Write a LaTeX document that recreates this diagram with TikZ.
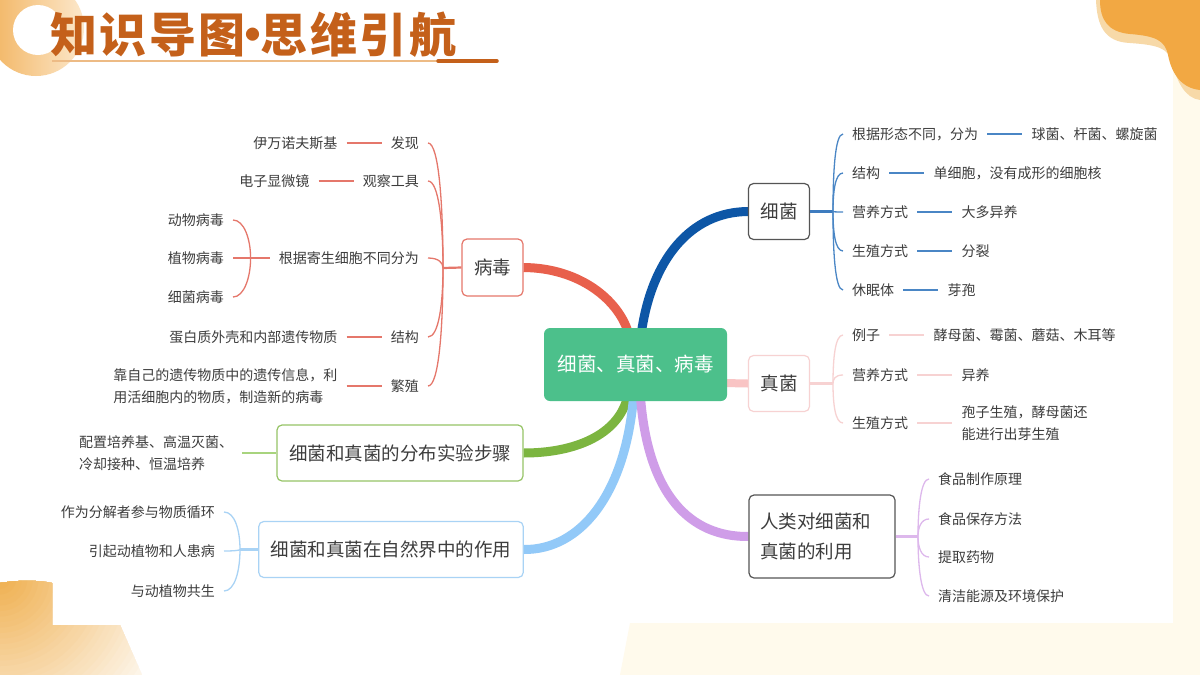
\documentclass[tikz,border=0pt]{standalone}
\usepackage{fontspec}
\setmainfont{Noto Sans CJK SC}
\usetikzlibrary{positioning,calc}
\pgfdeclarelayer{back}
\pgfdeclarelayer{bg}
\pgfsetlayers{back,bg,main}
\definecolor{txt}{HTML}{3D3D3D}
\definecolor{titlec}{HTML}{C4601A}
\definecolor{titleln}{HTML}{EDBB85}
\definecolor{cream}{HTML}{FFFAEC}
\definecolor{blobA}{HTML}{F2A843}
\definecolor{blobB}{HTML}{F7D9A8}
\definecolor{ringA}{HTML}{F2B460}
\definecolor{ringB}{HTML}{FCE8CC}
\definecolor{cornA}{HTML}{EFAE4C}
\definecolor{cornB}{HTML}{FFFFFF}
\definecolor{cgreen}{HTML}{4CC08B}
\definecolor{boxgrey}{HTML}{555555}
\definecolor{redb}{HTML}{E8604C}
\definecolor{redt}{HTML}{E5776B}
\definecolor{blueb}{HTML}{0D56A6}
\definecolor{bluet}{HTML}{4A86C5}
\definecolor{pinkb}{HTML}{F9C4C4}
\definecolor{pinkt}{HTML}{F7D2D2}
\definecolor{greenb}{HTML}{7CB540}
\definecolor{greent}{HTML}{A8D47E}
\definecolor{lblueb}{HTML}{92C9F8}
\definecolor{lbluet}{HTML}{A9D3F5}
\definecolor{purpb}{HTML}{CF9DE8}
\definecolor{purpt}{HTML}{DDB8EC}
\newcommand\brL[3]{\draw[#1] (#2.east) .. controls +(11,0) and ($(#3)!0.5!(#3|-#2.east)$) .. (#3);}
\newcommand\brR[3]{\draw[#1] (#2.west) .. controls +(-8,0) and ($(#3)!0.5!(#3|-#2.west)$) .. (#3);}
\begin{document}
\begin{tikzpicture}[x=1pt,y=-1pt,
  leaf/.style={inner xsep=9pt, inner ysep=2pt, text=txt, font=\fontsize{14}{22}\selectfont},
  boxn/.style={draw, rounded corners=5pt, line width=1.2pt, fill=white, text=txt,
     font=\fontsize{18.5}{30}\selectfont, minimum height=56pt, inner xsep=12pt},
  branch/.style={line width=9pt},
  thin/.style={line width=1.3pt},
  stem/.style={line width=2.2pt}]
\useasboundingbox (0,0) rectangle (1200,675);
\begin{pgfonlayer}{back}
\fill[white] (0,0) rectangle (1200,675);
\fill[cream] (620,675) -- (630,623) -- (1173,623) -- (1173,40) -- (1200,40) -- (1200,675) -- cycle;
\fill[blobB] (1096,0) .. controls (1097,25) and (1104,42) .. (1130,43) .. controls (1158,45) and (1168,48) .. (1172,62) .. controls (1177,82) and (1185,98) .. (1200,100) -- (1200,0) -- cycle;
\fill[blobA] (1100,0) .. controls (1100,20) and (1108,32) .. (1130,34) .. controls (1155,36) and (1165,40) .. (1168,55) .. controls (1172,75) and (1182,88) .. (1200,90) -- (1200,0) -- cycle;
\begin{scope}
\clip (0,583) .. controls (18,580) and (38,580) .. (52,583) -- (52,625) -- (120,625) -- (142,675) -- (0,675) -- cycle;
\foreach \i in {36,35,...,1} {
  \pgfmathtruncatemacro\p{100-\i*100/36}
  \fill[cornA!\p!cornB] (0,578) circle ({\i*5.5});
}
\end{scope}
\shade[left color=ringA, right color=ringB] (36,28) circle (48);
\fill[white] (38,30) circle (25);
\end{pgfonlayer}
% title
\node[anchor=base west, inner sep=0pt, text=titlec, font=\fontsize{47}{50}\selectfont\bfseries] (title) at (50,52) {知\kern2.5pt识\kern2.5pt导\kern2.5pt图\kern-16pt•\kern-16pt思\kern2.5pt维\kern2.5pt引\kern2.5pt航};
\coordinate (ul1) at (52,61);
\coordinate (ul2) at (440,61);
\coordinate (ul3) at (438,61);
\coordinate (ul4) at (497,61);
\draw[titleln, line width=1.5pt] (ul1) -- (ul2);
\draw[titlec, line width=3.5pt, line cap=round] (ul3) -- (ul4);
% central node and main boxes
\node[fill=cgreen, rounded corners=6pt, minimum width=183pt, minimum height=73pt, text=white, font=\fontsize{19.5}{24}\selectfont] (c) at (635.5,364.5) {细菌、真菌、病毒};
\node[boxn, draw=redt, minimum width=61pt, minimum height=57pt] (vir) at (492.5,267.5) {病毒};
\node[boxn, draw=boxgrey, minimum width=60pt] (bac) at (779,211.5) {细菌};
\node[boxn, draw=pinkt, minimum width=60pt] (fun) at (779,383.5) {真菌};
\node[boxn, draw=greenb!80, minimum width=246pt] (grn) at (400,453) {细菌和真菌的分布实验步骤};
\node[boxn, draw=lbluet, minimum width=264pt] (nat) at (391,549.5) {细菌和真菌在自然界中的作用};
\node[boxn, draw=boxgrey, align=left, text width=124pt, inner xsep=11pt, minimum height=83pt] (hum) at (822,536.5) {人类对细菌和\\真菌的利用};
% main branches
\begin{pgfonlayer}{bg}
\draw[branch, redb] ($(c.north)+(-7.5,4)$) .. controls (618,300) and (580,268) .. (vir.east);
\draw[branch, blueb] ($(c.north)+(6,4)$) .. controls (652,260) and (690,212) .. (bac.west);
\draw[branch, pinkb, line width=8pt] ($(c.east)+(-4,18.5)$) -- (fun.west);
\draw[branch, greenb] ($(c.south)+(-8,-4)$) .. controls (618,435) and (575,453) .. (grn.east);
\draw[branch, lblueb] ($(c.south)+(-2,-4)$) .. controls (625,495) and (580,550) .. (nat.east);
\draw[branch, purpb] ($(c.south)+(5,-4)$) .. controls (648,495) and (690,537) .. (hum.west);
\end{pgfonlayer}
% ---------- virus ----------
\coordinate (j1) at (443,268);
\draw[stem, redt] (vir.west) -- (j1);
\node[leaf, anchor=east] (v1) at (428,143) {发现};
\node[leaf, anchor=east] (v2) at (428,181) {观察工具};
\node[leaf, anchor=east] (v3) at (428,258) {根据寄生细胞不同分为};
\node[leaf, anchor=east] (v4) at (428,337) {结构};
\node[leaf, anchor=east] (v5) at (428,386) {繁殖};
\foreach \n in {v1,v2,v3,v4,v5} {\brL{thin, redt}{\n}{j1}}
\node[leaf, left=35pt of v1] (v1a) {伊万诺夫斯基};
\node[leaf, left=35pt of v2] (v2a) {电子显微镜};
\node[leaf, left=35pt of v4] (v4a) {蛋白质外壳和内部遗传物质};
\node[leaf, left=35pt of v5, align=left] (v5a) {靠自己的遗传物质中的遗传信息，利\\用活细胞内的物质，制造新的病毒};
\draw[thin, redt] (v1a) -- (v1);
\draw[thin, redt] (v2a) -- (v2);
\draw[thin, redt] (v4a) -- (v4);
\draw[thin, redt] (v5a.east) -- (v5.west);
\coordinate (j2) at ($(v3.west)+(-19,0)$);
\draw[thin, redt] (v3.west) -- (j2);
\node[leaf, anchor=east] (v3a) at (233,220) {动物病毒};
\node[leaf, anchor=east] (v3b) at (233,258) {植物病毒};
\node[leaf, anchor=east] (v3c) at (233,297) {细菌病毒};
\foreach \n in {v3a,v3b,v3c} {\brL{thin, redt}{\n}{j2}}
% ---------- bacteria ----------
\coordinate (j3) at (833,211.5);
\draw[stem, bluet!80!blueb] (bac.east) -- (j3);
\node[leaf, anchor=west] (b1) at (843,134) {根据形态不同，分为};
\node[leaf, anchor=west] (b2) at (843,173) {结构};
\node[leaf, anchor=west] (b3) at (843,212) {营养方式};
\node[leaf, anchor=west] (b4) at (843,251) {生殖方式};
\node[leaf, anchor=west] (b5) at (843,290) {休眠体};
\foreach \n in {b1,b2,b3,b4,b5} {\brR{thin, bluet}{\n}{j3}}
\node[leaf, right=35pt of b1] (b1a) {球菌、杆菌、螺旋菌};
\node[leaf, right=35pt of b2] (b2a) {单细胞，没有成形的细胞核};
\node[leaf, right=35pt of b3] (b3a) {大多异养};
\node[leaf, right=35pt of b4] (b4a) {分裂};
\node[leaf, right=35pt of b5] (b5a) {芽孢};
\foreach \n in {b1,b2,b3,b4,b5} {\draw[thin, bluet] (\n) -- (\n a);}
% ---------- fungi ----------
\coordinate (j4) at (833,383.5);
\draw[stem, pinkt] (fun.east) -- (j4);
\node[leaf, anchor=west] (f1) at (843,335) {例子};
\node[leaf, anchor=west] (f2) at (843,375) {营养方式};
\node[leaf, anchor=west] (f3) at (843,423) {生殖方式};
\foreach \n in {f1,f2,f3} {\brR{thin, pinkt}{\n}{j4}}
\node[leaf, right=35pt of f1] (f1a) {酵母菌、霉菌、蘑菇、木耳等};
\node[leaf, right=35pt of f2] (f2a) {异养};
\node[leaf, right=35pt of f3, align=left] (f3a) {孢子生殖，酵母菌还\\能进行出芽生殖};
\draw[thin, pinkt] (f1) -- (f1a);
\draw[thin, pinkt] (f2) -- (f2a);
\draw[thin, pinkt] (f3.east) -- (f3a.west);
% ---------- human use ----------
\coordinate (j5) at (918,536.5);
\draw[stem, purpt] (hum.east) -- (j5);
\node[leaf, anchor=west] (h1) at (929,479) {食品制作原理};
\node[leaf, anchor=west] (h2) at (929,519) {食品保存方法};
\node[leaf, anchor=west] (h3) at (929,557) {提取药物};
\node[leaf, anchor=west] (h4) at (929,596) {清洁能源及环境保护};
\foreach \n in {h1,h2,h3,h4} {\brR{thin, purpt}{\n}{j5}}
% ---------- experiment ----------
\node[leaf, left=34pt of grn, align=left] (g1) {配置培养基、高温灭菌、\\冷却接种、恒温培养};
\draw[thin, greent] (g1.east) -- (grn.west);
% ---------- nature ----------
\coordinate (j6) at (240,549.5);
\draw[stem, lbluet] (nat.west) -- (j6);
\node[leaf, anchor=east] (n1) at (224,512) {作为分解者参与物质循环};
\node[leaf, anchor=east] (n2) at (224,551) {引起动植物和人患病};
\node[leaf, anchor=east] (n3) at (224,591) {与动植物共生};
\foreach \n in {n1,n2,n3} {\brL{thin, lbluet}{\n}{j6}}
\end{tikzpicture}
\end{document}
